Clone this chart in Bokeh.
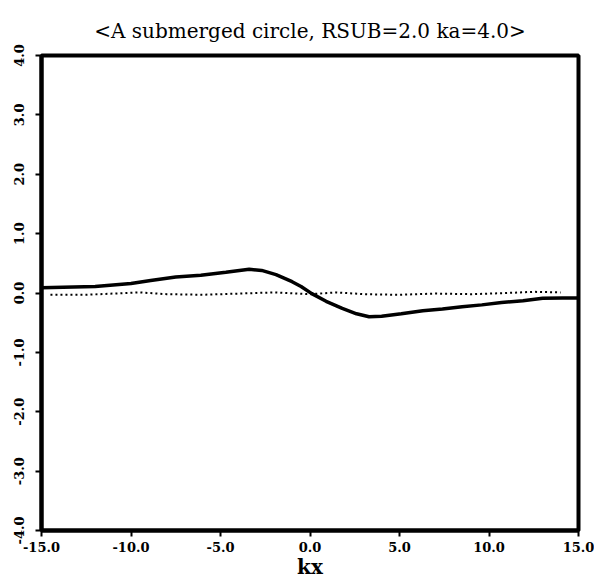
from bokeh.plotting import figure
from bokeh.models import Range1d, FixedTicker, CustomJSTickFormatter
from bokeh.embed import file_html
from bokeh.resources import INLINE

# Solid curve (kx, value)
solid_x = [-15.0, -12.0, -10.0, -8.9, -7.5, -6.1, -4.7, -3.4, -2.7, -1.9, -1.0, -0.5,
           0.1, 0.9, 1.8, 2.6, 3.3, 4.0, 5.1, 6.3, 7.4, 8.5, 9.6, 10.7, 11.9, 13.0, 14.1, 15.0]
solid_y = [0.09, 0.11, 0.16, 0.21, 0.27, 0.30, 0.35, 0.40, 0.38, 0.31, 0.19, 0.11,
           -0.01, -0.14, -0.26, -0.35, -0.40, -0.39, -0.35, -0.30, -0.27, -0.23, -0.20, -0.16,
           -0.13, -0.09, -0.085, -0.085]

# Dotted curve
dot_x = [-14.5, -12.5, -11.0, -9.5, -8.0, -6.0, -4.0, -2.0, 0.0, 1.5, 3.0, 5.0,
         7.0, 9.0, 11.0, 12.5, 14.0]
dot_y = [-0.03, -0.03, -0.01, 0.01, -0.02, -0.03, -0.01, 0.01, -0.02, 0.01, -0.02, -0.03,
         -0.01, -0.02, 0.0, 0.02, 0.01]

x_ticks = [-15, -10, -5, 0, 5, 10, 15]
y_ticks = [-4, -3, -2, -1, 0, 1, 2, 3, 4]

title_text = "<A submerged circle, RSUB=2.0 ka=4.0>"
x_label = "kx"

FONT = "DejaVu Serif"

p = figure(width=594, height=581, output_backend="svg", toolbar_location=None,
           x_range=Range1d(-15, 15), y_range=Range1d(-4, 4),
           min_border_left=41, min_border_right=16, min_border_top=55, min_border_bottom=10)

p.title.text = title_text
p.title.align = "center"
p.title.text_font = FONT
p.title.text_font_size = "20px"
p.title.text_font_style = "normal"
p.title.text_color = "black"
p.title.standoff = 26

p.grid.visible = False
p.outline_line_color = "black"
p.outline_line_width = 4
p.outline_line_alpha = 1.0

fmt = CustomJSTickFormatter(code="return tick.toFixed(1);")

p.xaxis.ticker = FixedTicker(ticks=x_ticks)
p.xaxis.formatter = fmt
p.xaxis.axis_label = x_label
p.xaxis.axis_label_text_font = FONT
p.xaxis.axis_label_text_font_style = "bold"
p.xaxis.axis_label_text_font_size = "20px"
p.xaxis.axis_label_text_color = "black"
p.xaxis.axis_label_standoff = 0
p.yaxis.ticker = FixedTicker(ticks=y_ticks)
p.yaxis.formatter = fmt
p.yaxis.major_label_orientation = "vertical"

for ax in (p.xaxis, p.yaxis):
    ax.axis_line_width = 4
    ax.axis_line_color = "black"
    ax.major_tick_line_width = 2
    ax.major_tick_line_color = "black"
    ax.major_tick_out = 6
    ax.major_tick_in = 0
    ax.minor_tick_line_color = None
    ax.major_label_text_font = FONT
    ax.major_label_text_font_style = "bold"
    ax.major_label_text_font_size = "13px"
    ax.major_label_text_color = "black"
    ax.major_label_standoff = 5

p.yaxis.major_label_standoff = 12

p.line(solid_x, solid_y, line_color="black", line_width=3.5)
p.line(dot_x, dot_y, line_color="black", line_width=2, line_dash="2 3")

open("out.html", "w").write(file_html(p, INLINE))
